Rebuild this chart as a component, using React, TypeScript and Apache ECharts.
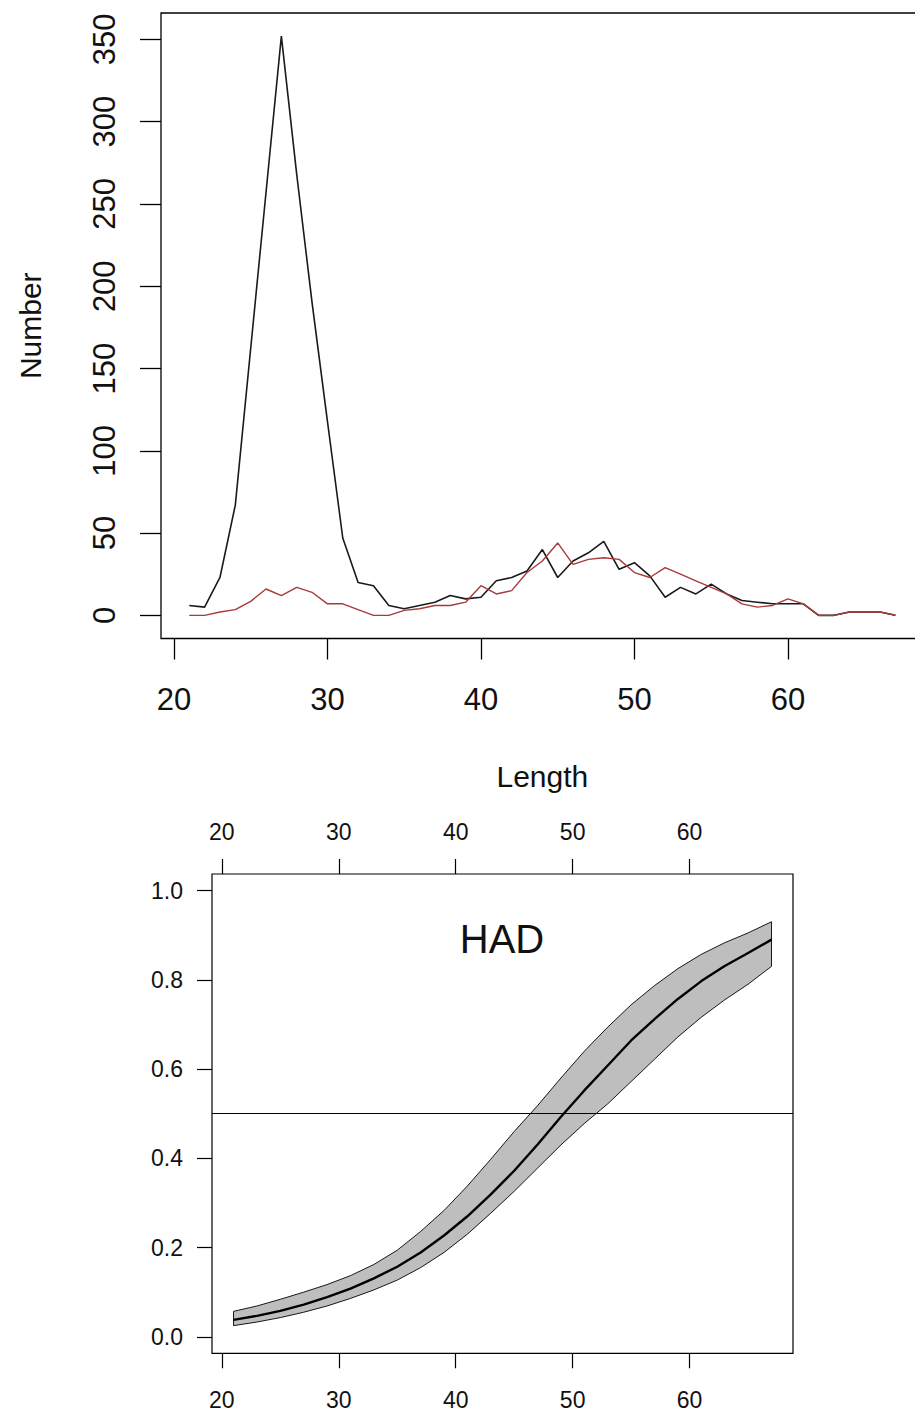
import React, { useEffect, useRef } from "react";
import * as echarts from "echarts";

// ---------- Top chart: length frequency ----------
const lengths = [
  21, 22, 23, 24, 25, 26, 27, 28, 29, 30, 31, 32, 33, 34, 35, 36, 37, 38, 39, 40,
  41, 42, 43, 44, 45, 46, 47, 48, 49, 50, 51, 52, 53, 54, 55, 56, 57, 58, 59, 60,
  61, 62, 63, 64, 65, 66, 67,
];
const totalCounts = [
  6, 5, 23, 67, 162, 257, 352, 268, 190, 118, 47, 20, 18, 6, 4, 6, 8, 12, 10, 11,
  21, 23, 27, 40, 23, 33, 38, 45, 28, 32, 24, 11, 17, 13, 19, 13, 9, 8, 7, 7,
  7, 0, 0, 2, 2, 2, 0,
];
const redCounts = [
  0, 0, 2, 3.5, 8.5, 16, 12, 17, 14, 7, 7, 3.5, 0, 0, 3, 4, 6, 6, 8, 18,
  13, 15, 26, 33, 44, 31, 34, 35, 34, 26, 23, 29, 25, 21, 17, 13, 7, 5, 6, 10,
  7, 0, 0, 2, 2, 2, 0,
];
const topXTicks = [20, 30, 40, 50, 60];
const topYTicks = [0, 50, 100, 150, 200, 250, 300, 350];

// ---------- Bottom chart: maturity ogive ----------
const probX = [21, 23, 25, 27, 29, 31, 33, 35, 37, 39, 41, 43, 45, 47, 49, 51, 53, 55, 57, 59, 61, 63, 65, 67];
const probMean = [
  0.038, 0.047, 0.058, 0.072, 0.089, 0.108, 0.131, 0.157, 0.189, 0.227, 0.27, 0.319,
  0.372, 0.431, 0.493, 0.552, 0.608, 0.664, 0.712, 0.757, 0.797, 0.831, 0.86, 0.89,
];
const probUpper = [
  0.057, 0.069, 0.084, 0.1, 0.117, 0.137, 0.162, 0.194, 0.236, 0.283, 0.338, 0.398,
  0.46, 0.518, 0.58, 0.64, 0.694, 0.744, 0.787, 0.825, 0.857, 0.883, 0.905, 0.93,
];
const probLower = [
  0.025, 0.033, 0.043, 0.055, 0.069, 0.086, 0.105, 0.127, 0.155, 0.189, 0.23, 0.277,
  0.326, 0.378, 0.43, 0.478, 0.522, 0.572, 0.622, 0.672, 0.716, 0.755, 0.79, 0.83,
];
const probXTicks = [20, 30, 40, 50, 60];
const probYTicks = [0, 0.2, 0.4, 0.6, 0.8, 1.0];
const speciesLabel = "HAD";
const halfLevel = 0.5;

const FONT = "'Liberation Sans', Arial, 'DejaVu Sans', sans-serif";
const TXT = "#111";

export default function App() {
  const ref = useRef<HTMLDivElement>(null);

  useEffect(() => {
    if (!ref.current) return;
    const chart = echarts.init(ref.current, undefined, { renderer: "svg" });

    const tickStyle = { color: "#000", width: 1.3 };
    const tickStyle2 = { color: "#000", width: 1.2 };

    const option: any = {
      animation: false,
      backgroundColor: "#ffffff",
      textStyle: { fontFamily: FONT },
      grid: [
        {
          left: 161,
          top: 13,
          width: 762.7,
          height: 625.5,
          show: true,
          borderColor: "#000",
          borderWidth: 1.3,
          backgroundColor: "transparent",
        },
        {
          left: 212,
          top: 874,
          width: 581,
          height: 479.3,
          show: true,
          borderColor: "#000",
          borderWidth: 1.2,
          backgroundColor: "transparent",
        },
      ],
      xAxis: [
        {
          gridIndex: 0,
          type: "value",
          min: 19.16,
          max: 68.84,
          position: "bottom",
          axisLine: { show: false, onZero: false },
          splitLine: { show: false },
          axisTick: { show: true, length: 21, customValues: topXTicks, lineStyle: tickStyle },
          axisLabel: { customValues: topXTicks, fontSize: 31, margin: 45, color: TXT, fontFamily: FONT },
          name: "Length",
          nameLocation: "middle",
          nameGap: 123,
          nameTextStyle: { fontSize: 30, color: TXT, fontFamily: FONT },
        },
        {
          gridIndex: 1,
          type: "value",
          min: 19.16,
          max: 68.84,
          position: "bottom",
          axisLine: { show: false, onZero: false },
          splitLine: { show: false },
          axisTick: { show: true, length: 15, customValues: probXTicks, lineStyle: tickStyle2 },
          axisLabel: { customValues: probXTicks, fontSize: 23, margin: 35, color: TXT, fontFamily: FONT },
        },
        {
          gridIndex: 1,
          type: "value",
          min: 19.16,
          max: 68.84,
          position: "top",
          axisLine: { show: false, onZero: false },
          splitLine: { show: false },
          axisTick: { show: true, length: 15, customValues: probXTicks, lineStyle: tickStyle2 },
          axisLabel: { customValues: probXTicks, fontSize: 23, margin: 31, color: TXT, fontFamily: FONT },
        },
      ],
      yAxis: [
        {
          gridIndex: 0,
          type: "value",
          min: -14.08,
          max: 366.08,
          position: "left",
          axisLine: { show: false, onZero: false },
          splitLine: { show: false },
          axisTick: { show: true, length: 21, customValues: topYTicks, lineStyle: tickStyle },
          axisLabel: { customValues: topYTicks, rotate: 90, fontSize: 31, margin: 41, color: TXT, fontFamily: FONT },
          name: "Number",
          nameLocation: "middle",
          nameRotate: 90,
          nameGap: 116,
          nameTextStyle: { fontSize: 30, color: TXT, fontFamily: FONT },
        },
        {
          gridIndex: 1,
          type: "value",
          min: -0.037,
          max: 1.037,
          position: "left",
          axisLine: { show: false, onZero: false },
          splitLine: { show: false },
          axisTick: { show: true, length: 15, customValues: probYTicks, lineStyle: tickStyle2 },
          axisLabel: {
            customValues: probYTicks,
            fontSize: 23,
            margin: 29,
            color: TXT,
            fontFamily: FONT,
            formatter: (v: number) => v.toFixed(1),
          },
        },
      ],
      graphic: [
        {
          type: "text",
          x: 502,
          y: 939,
          z: 100,
          style: {
            text: speciesLabel,
            fontSize: 40,
            fontFamily: FONT,
            fill: TXT,
            align: "center",
            verticalAlign: "middle",
            textAlign: "center",
            textVerticalAlign: "middle",
          },
        },
      ],
      series: [
        {
          name: "Total",
          type: "line",
          xAxisIndex: 0,
          yAxisIndex: 0,
          data: lengths.map((x, i) => [x, totalCounts[i]]),
          showSymbol: false,
          symbol: "none",
          lineStyle: { color: "#1a1a1a", width: 1.6 },
          z: 3,
        },
        {
          name: "Mature",
          type: "line",
          xAxisIndex: 0,
          yAxisIndex: 0,
          data: lengths.map((x, i) => [x, redCounts[i]]),
          showSymbol: false,
          symbol: "none",
          lineStyle: { color: "#A83A3A", width: 1.4 },
          z: 4,
        },
        {
          name: "ciBand",
          type: "custom",
          coordinateSystem: "cartesian2d",
          xAxisIndex: 1,
          yAxisIndex: 1,
          data: [[probX[0], probMean[0]]],
          z: 2,
          renderItem: (_params: any, api: any) => {
            const pts: number[][] = [];
            for (let i = 0; i < probX.length; i++) pts.push(api.coord([probX[i], probUpper[i]]));
            for (let i = probX.length - 1; i >= 0; i--) pts.push(api.coord([probX[i], probLower[i]]));
            return {
              type: "polygon",
              shape: { points: pts },
              style: { fill: "#BEBEBE", stroke: "#000", lineWidth: 0.9 },
            };
          },
        },
        {
          name: "fit",
          type: "line",
          xAxisIndex: 1,
          yAxisIndex: 1,
          data: probX.map((x, i) => [x, probMean[i]]),
          showSymbol: false,
          symbol: "none",
          lineStyle: { color: "#000", width: 2.4, join: "round" },
          z: 4,
          markLine: {
            silent: true,
            symbol: ["none", "none"],
            label: { show: false },
            lineStyle: { color: "#000", width: 1.2, type: "solid" },
            data: [{ yAxis: halfLevel }],
          },
        },
      ],
    };

    chart.setOption(option);
    return () => {
      chart.dispose();
    };
  }, []);

  return (
    <div
      style={{
        position: "absolute",
        left: 0,
        top: 0,
        width: 915,
        height: 1414,
        overflow: "hidden",
        background: "#fff",
      }}
    >
      <div ref={ref} style={{ width: 930, height: 1414 }} />
    </div>
  );
}
